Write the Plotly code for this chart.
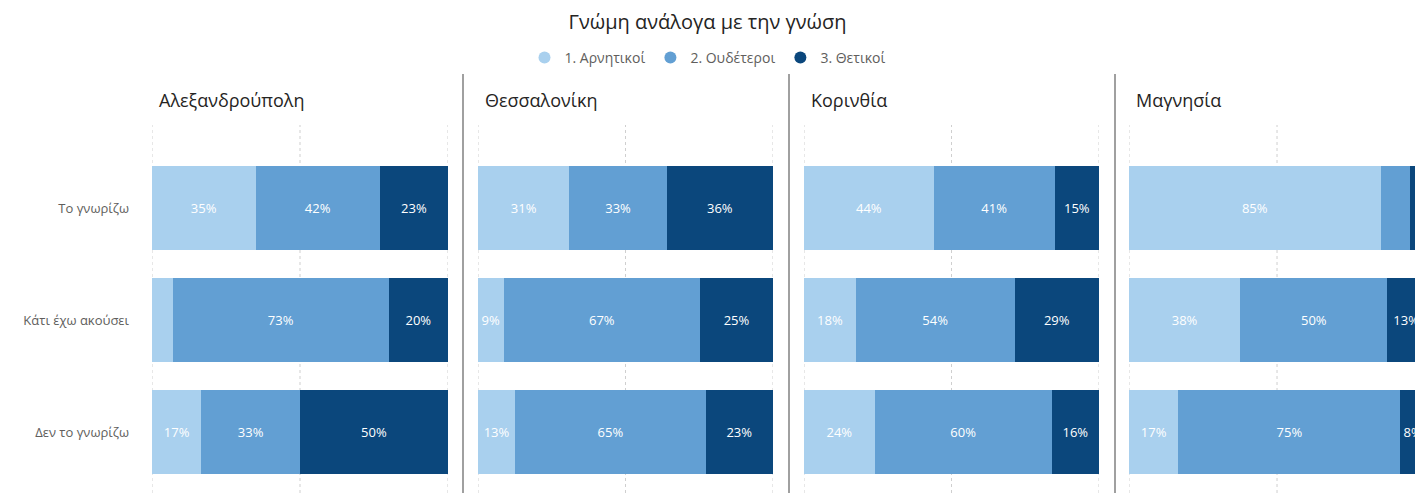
import plotly.graph_objects as go

title_text = "Γνώμη ανάλογα με την γνώση"
cities = ["Αλεξανδρούπολη", "Θεσσαλονίκη", "Κορινθία", "Μαγνησία"]
categories = ["Το γνωρίζω", "Κάτι έχω ακούσει", "Δεν το γνωρίζω"]
series_names = ["1. Αρνητικοί", "2. Ουδέτεροι", "3. Θετικοί"]
series_colors = ["#A9D0EE", "#629FD3", "#0B477C"]
grid_ticks = [0, 50, 100]

# values per city: [row1, row2, row3] for each series (percent)
negative = {
    "Αλεξανδρούπολη": [35, 7, 16.7],
    "Θεσσαλονίκη": [31, 8.7, 12.6],
    "Κορινθία": [44, 17.6, 24],
    "Μαγνησία": [85, 37.6, 16.7],
}
neutral = {
    "Αλεξανδρούπολη": [42, 73, 33.3],
    "Θεσσαλονίκη": [33, 66.6, 64.6],
    "Κορινθία": [41, 53.8, 60],
    "Μαγνησία": [10, 49.7, 75.0],
}
positive = {
    "Αλεξανδρούπολη": [23, 20, 50.0],
    "Θεσσαλονίκη": [36, 24.7, 22.8],
    "Κορινθία": [15, 28.6, 16],
    "Μαγνησία": [4, 12.7, 8.3],
}
series_values = [negative, neutral, positive]
label_min = 8
# segments whose labels the original hides (too narrow for the text)
hidden_labels = {("Μαγνησία", "Το γνωρίζω", 1), ("Μαγνησία", "Το γνωρίζω", 2)}

W, H = 1415, 493
panel_px = [(152, 448), (478, 773), (804, 1099), (1129, 1415)]
panel_ranges = [[0, 100], [0, 100], [0, 100], [0, 96.6]]
sep_px = [463, 789, 1115]

fig = go.Figure()
font_family = "Segoe UI, Open Sans, Noto Sans, sans-serif"

for i, city in enumerate(cities):
    xa = "x" if i == 0 else f"x{i+1}"
    ya = "y" if i == 0 else f"y{i+1}"
    for s, name in enumerate(series_names):
        vals = series_values[s][city]
        texts = []
        for c, v in zip(categories, vals):
            if v < label_min or (city, c, s) in hidden_labels:
                texts.append("")
            else:
                texts.append(f"{round(v)}%")
        fig.add_trace(go.Bar(
            x=vals, y=categories, orientation="h",
            marker=dict(color=series_colors[s], line=dict(width=0)),
            text=texts, textposition="inside", insidetextanchor="middle",
            textfont=dict(color="white", size=13, family=font_family),
            textangle=0, constraintext="none",
            name=name, showlegend=False, xaxis=xa, yaxis=ya,
            hoverinfo="skip", cliponaxis=True,
        ))

# legend entries with circle markers
for s, name in enumerate(series_names):
    fig.add_trace(go.Scatter(
        x=[None], y=[None], mode="markers",
        marker=dict(symbol="circle", size=13, color=series_colors[s]),
        name=name, showlegend=True, xaxis="x", yaxis="y",
    ))

plot_top = 125
layout = dict(
    width=W, height=H,
    margin=dict(l=0, r=0, t=0, b=0),
    paper_bgcolor="white", plot_bgcolor="white",
    barmode="stack", bargap=0.25,
    showlegend=True,
    legend=dict(orientation="h", x=0.5, xanchor="center", y=1 - 58 / H, yanchor="middle",
                font=dict(size=14, color="#605E5C", family=font_family),
                itemsizing="constant", traceorder="normal", itemwidth=30,
                bgcolor="rgba(0,0,0,0)"),
    title=dict(text=title_text, x=0.5, xanchor="center", y=1 - 22 / H, yanchor="middle",
               font=dict(size=20, color="#252423", family=font_family)),
    uniformtext=dict(mode="show", minsize=12),
)

annotations = []
shapes = []
for i, city in enumerate(cities):
    x0, x1 = panel_px[i]
    key = "" if i == 0 else str(i + 1)
    xa = "x" if i == 0 else f"x{i+1}"
    layout["xaxis" + key] = dict(
        domain=[x0 / W, x1 / W], range=panel_ranges[i],
        showticklabels=False, showgrid=False,
        zeroline=False, showline=False, fixedrange=True,
        anchor="y" if i == 0 else f"y{i+1}",
    )
    layout["yaxis" + key] = dict(
        domain=[0, 1 - plot_top / H],
        type="category", categoryorder="array", categoryarray=categories,
        range=[2.545, -0.741],
        showticklabels=(i == 0), ticks="", ticklabelstandoff=22,
        tickfont=dict(size=13, color="#605E5C", family=font_family),
        showgrid=False, zeroline=False, showline=False, fixedrange=True,
        anchor="x" if i == 0 else f"x{i+1}",
    )
    # dotted value gridlines at 0 / 50 / 100 %
    for t in grid_ticks:
        if t <= panel_ranges[i][1]:
            shapes.append(dict(type="line", xref=xa, yref=f"{'y' if i == 0 else 'y' + str(i + 1)} domain",
                               x0=t, x1=t, y0=0, y1=1, layer="below",
                               line=dict(color="#CFCFCF", width=1, dash="dot")))
    annotations.append(dict(
        text=city, xref="paper", yref="paper",
        x=(x0 + 5) / W, y=1 - 100 / H, xanchor="left", yanchor="middle",
        showarrow=False, font=dict(size=18, color="#252423", family=font_family),
    ))

for xp in sep_px:
    shapes.append(dict(type="line", xref="paper", yref="paper",
                       x0=xp / W, x1=xp / W, y0=0, y1=1 - 74 / H,
                       line=dict(color="#A0A0A0", width=2)))

layout["annotations"] = annotations
layout["shapes"] = shapes
fig.update_layout(**layout)

fig.write_html("out.html", config={"displayModeBar": False},
               post_script="document.body.style.margin='0px';document.body.style.overflow='hidden';")
